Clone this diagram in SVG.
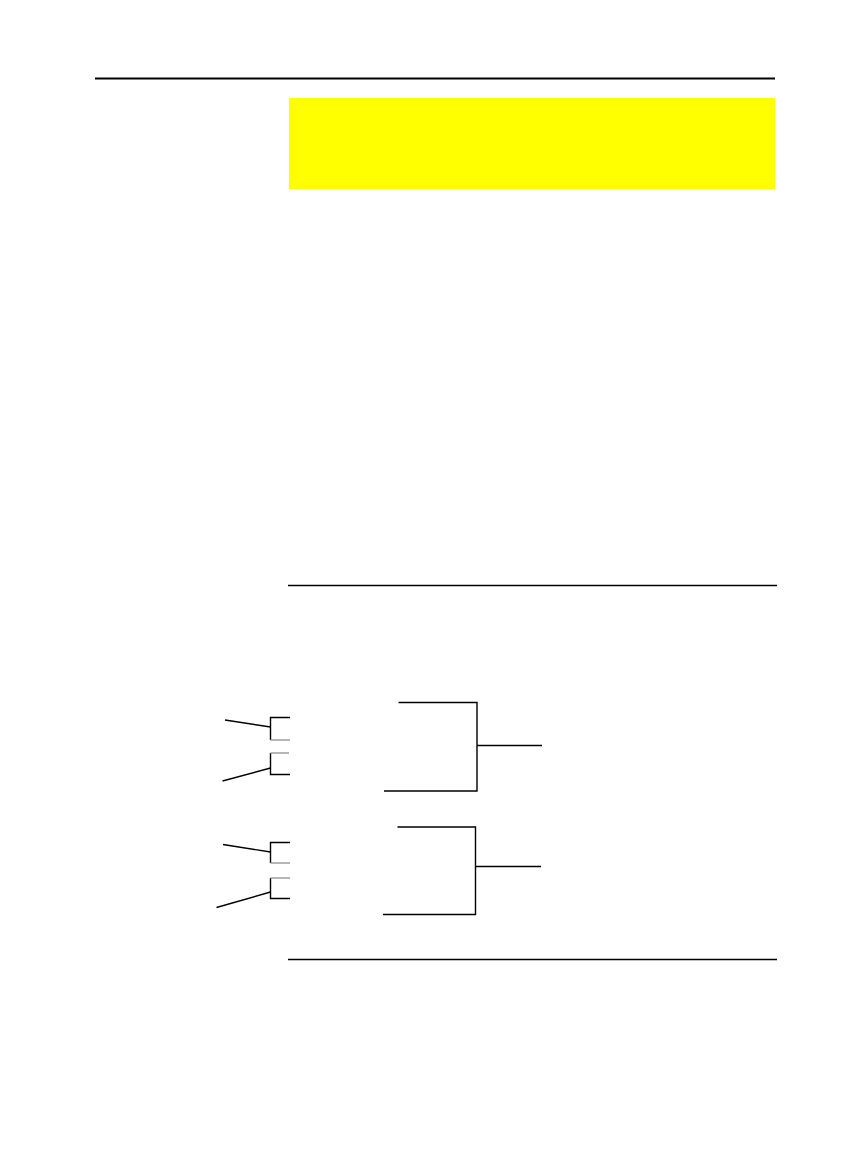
<svg xmlns="http://www.w3.org/2000/svg" width="868" height="1158" viewBox="0 0 868 1158">
<style>
.k{stroke:#000;stroke-width:1.4;fill:none}
.g{stroke:#999;stroke-width:1.4;fill:none}
</style>
<rect width="868" height="1158" fill="#fff"/>
<g id="rules">
<line x1="95" y1="78.5" x2="775" y2="78.5" stroke="#000" stroke-width="2"/>
<line x1="288" y1="585.5" x2="777" y2="585.5" class="k"/>
<line x1="288" y1="959.5" x2="777" y2="959.5" class="k"/>
</g>
<g id="note">
<rect x="289" y="98" width="486" height="91" fill="#ffff00"/>
</g>
<g id="connectors">
<line x1="225" y1="720" x2="270.5" y2="727" class="k"/>
<line x1="222.5" y1="781" x2="270.5" y2="768" class="k"/>
<line x1="223" y1="844.5" x2="270.5" y2="852" class="k"/>
<line x1="216.5" y1="907.5" x2="270.5" y2="892" class="k"/>
<line x1="477" y1="745.5" x2="542" y2="745.5" class="k"/>
<line x1="475.5" y1="866.5" x2="541" y2="866.5" class="k"/>
</g>
<g id="bracket1a">
<polyline points="290,717.5 270.5,717.5 270.5,740" class="k"/>
<line x1="270.5" y1="740" x2="290" y2="740" class="g"/>
</g>
<g id="bracket1b">
<polyline points="270.5,753 270.5,774.5 290,774.5" class="k"/>
<line x1="270.5" y1="753" x2="289" y2="753" class="g"/>
</g>
<g id="bracket2a">
<polyline points="290,842.5 270.5,842.5 270.5,863" class="k"/>
<line x1="270.5" y1="863" x2="290" y2="863" class="g"/>
</g>
<g id="bracket2b">
<polyline points="270.5,878 270.5,898.5 290,898.5" class="k"/>
<line x1="270.5" y1="878" x2="290" y2="878" class="g"/>
</g>
<g id="gate1">
<polyline points="398.5,702.5 477,702.5 477,791 384,791" class="k"/>
</g>
<g id="gate2">
<polyline points="397.5,827 475.5,827 475.5,914.5 383,914.5" class="k"/>
</g>
</svg>
